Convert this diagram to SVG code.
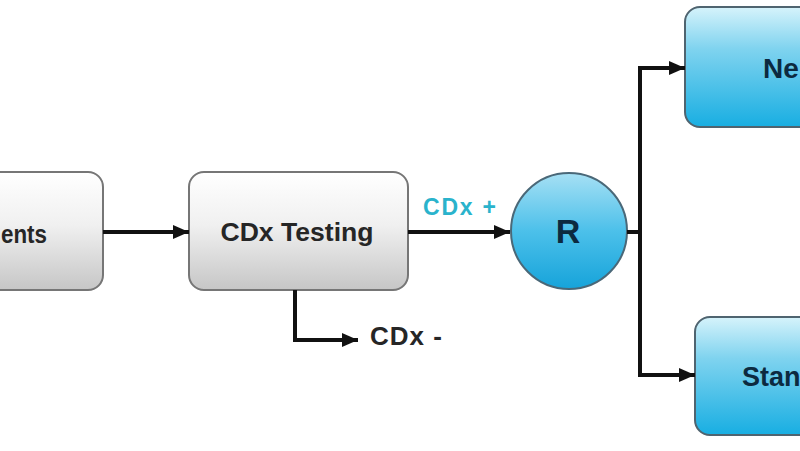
<svg xmlns="http://www.w3.org/2000/svg" width="800" height="451" viewBox="0 0 800 451">
  <defs>
    <linearGradient id="gGray" x1="0" y1="0" x2="0" y2="1">
      <stop offset="0" stop-color="#ffffff"/>
      <stop offset="0.45" stop-color="#f0f0f0"/>
      <stop offset="1" stop-color="#c6c6c6"/>
    </linearGradient>
    <linearGradient id="gBlue" x1="0" y1="0" x2="0" y2="1">
      <stop offset="0" stop-color="#d6f3fb"/>
      <stop offset="0.35" stop-color="#7fd3ef"/>
      <stop offset="1" stop-color="#18aee2"/>
    </linearGradient>
    <linearGradient id="gCircle" x1="0" y1="0" x2="0" y2="1">
      <stop offset="0" stop-color="#a6e0f4"/>
      <stop offset="0.5" stop-color="#4cc0ea"/>
      <stop offset="1" stop-color="#16a3da"/>
    </linearGradient>
    <marker id="arrow" markerUnits="userSpaceOnUse" markerWidth="18" markerHeight="16" refX="16" refY="8" orient="auto">
      <path d="M0,1 L16,8 L0,15 Z" fill="#111"/>
    </marker>
    <style>
      .gbox { fill: url(#gGray); stroke: #767676; stroke-width: 2; }
      .bbox { fill: url(#gBlue); stroke: #4f6470; stroke-width: 2; }
      .lbl { font-family: "Liberation Sans", Arial, sans-serif; font-weight: bold; }
      .dark { fill: #262626; }
      .navy { fill: #0c2a40; }
      .conn { fill: none; stroke: #111; stroke-width: 4; }
    </style>
  </defs>
  <rect width="800" height="451" fill="#ffffff"/>

  <g id="patients">
    <rect class="gbox" x="-40" y="172" width="143" height="118" rx="15"/>
    <text class="lbl dark" x="1" y="243" font-size="25" textLength="46" lengthAdjust="spacingAndGlyphs">ents</text>
  </g>

  <g id="cdx-testing">
    <rect class="gbox" x="189" y="172" width="219" height="118" rx="15"/>
    <text class="lbl dark" x="297" y="241" font-size="25" text-anchor="middle" textLength="153" lengthAdjust="spacingAndGlyphs">CDx Testing</text>
  </g>

  <g id="randomize">
    <circle cx="569" cy="231" r="58" fill="url(#gCircle)" stroke="#4a6878" stroke-width="2"/>
    <text class="lbl navy" x="568" y="243" font-size="34" text-anchor="middle">R</text>
  </g>

  <g id="new">
    <rect class="bbox" x="685" y="7" width="160" height="120" rx="15"/>
    <text class="lbl navy" x="763" y="78" font-size="28">Ne</text>
  </g>

  <g id="standard">
    <rect class="bbox" x="695" y="317" width="160" height="118" rx="15"/>
    <text class="lbl navy" x="742" y="386" font-size="27">Stan</text>
  </g>

  <g id="connectors">
    <line class="conn" x1="103" y1="232" x2="189" y2="232" marker-end="url(#arrow)"/>
    <line class="conn" x1="408" y1="232" x2="510" y2="232" marker-end="url(#arrow)"/>
    <polyline class="conn" points="295,290 295,340 358,340" marker-end="url(#arrow)"/>
    <line class="conn" x1="627" y1="232" x2="640" y2="232"/>
    <polyline class="conn" points="640,66 640,375 695,375" marker-end="url(#arrow)"/>
    <line class="conn" x1="638" y1="68" x2="685" y2="68" marker-end="url(#arrow)"/>
  </g>

  <g id="labels">
    <text class="lbl" x="423" y="215" font-size="23" fill="#2ab3cc" textLength="73" lengthAdjust="spacing">CDx +</text>
    <text class="lbl dark" x="370" y="345" font-size="26" textLength="72" lengthAdjust="spacing">CDx -</text>
  </g>
</svg>
